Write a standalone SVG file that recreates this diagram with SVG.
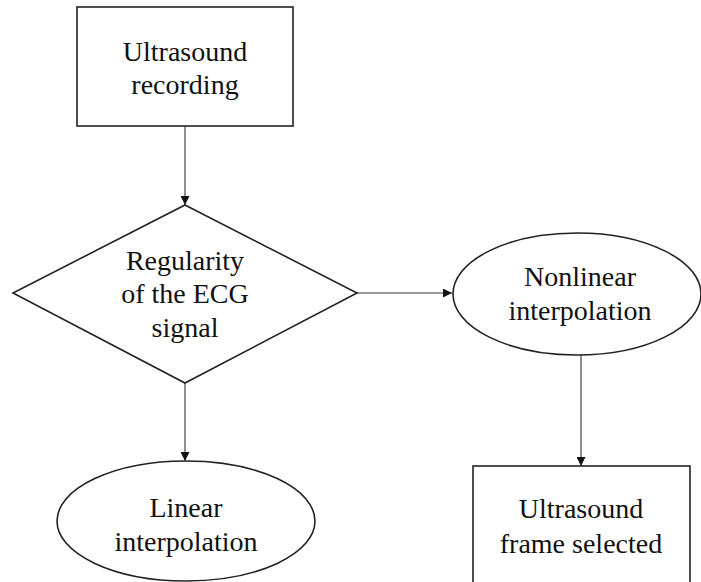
<svg xmlns="http://www.w3.org/2000/svg" width="701" height="582" viewBox="0 0 701 582">
<defs>
<marker id="arr" viewBox="0 0 10 10" refX="10" refY="5" markerWidth="9" markerHeight="9" markerUnits="userSpaceOnUse" orient="auto">
<path d="M0,0 L10,5 L0,10 Z" fill="#111"/>
</marker>
<style>
.shape{fill:#fff;stroke:#222;stroke-width:1.6}
.conn{stroke:#333;stroke-width:1.1;fill:none}
text{font-family:"Liberation Serif","Times New Roman",serif;font-size:28px;fill:#111;text-anchor:middle}
</style>
</defs>
<rect width="701" height="582" fill="#fff"/>
<g id="connectors">
<line class="conn" x1="185" y1="126" x2="185" y2="205" marker-end="url(#arr)"/>
<line class="conn" x1="357" y1="293" x2="452" y2="293" marker-end="url(#arr)"/>
<line class="conn" x1="185" y1="383" x2="185" y2="461" marker-end="url(#arr)"/>
<line class="conn" x1="581" y1="355" x2="581" y2="466" marker-end="url(#arr)"/>
</g>
<g id="ultrasound-recording">
<rect class="shape" x="77" y="7" width="216" height="119"/>
<text x="185" y="61">Ultrasound</text>
<text x="185" y="94">recording</text>
</g>
<g id="regularity">
<polygon class="shape" points="185,205 357,293 185,383 13,293"/>
<text x="185" y="270">Regularity</text>
<text x="185" y="303">of the ECG</text>
<text x="185" y="337">signal</text>
</g>
<g id="nonlinear">
<ellipse class="shape" cx="577" cy="294" rx="124" ry="61"/>
<text x="580" y="286">Nonlinear</text>
<text x="580" y="320">interpolation</text>
</g>
<g id="linear">
<ellipse class="shape" cx="186" cy="521" rx="129" ry="60"/>
<text x="186" y="517">Linear</text>
<text x="186" y="551">interpolation</text>
</g>
<g id="frame-selected">
<rect class="shape" x="473" y="466" width="217" height="130"/>
<text x="581" y="518">Ultrasound</text>
<text x="581" y="553">frame selected</text>
</g>
</svg>
